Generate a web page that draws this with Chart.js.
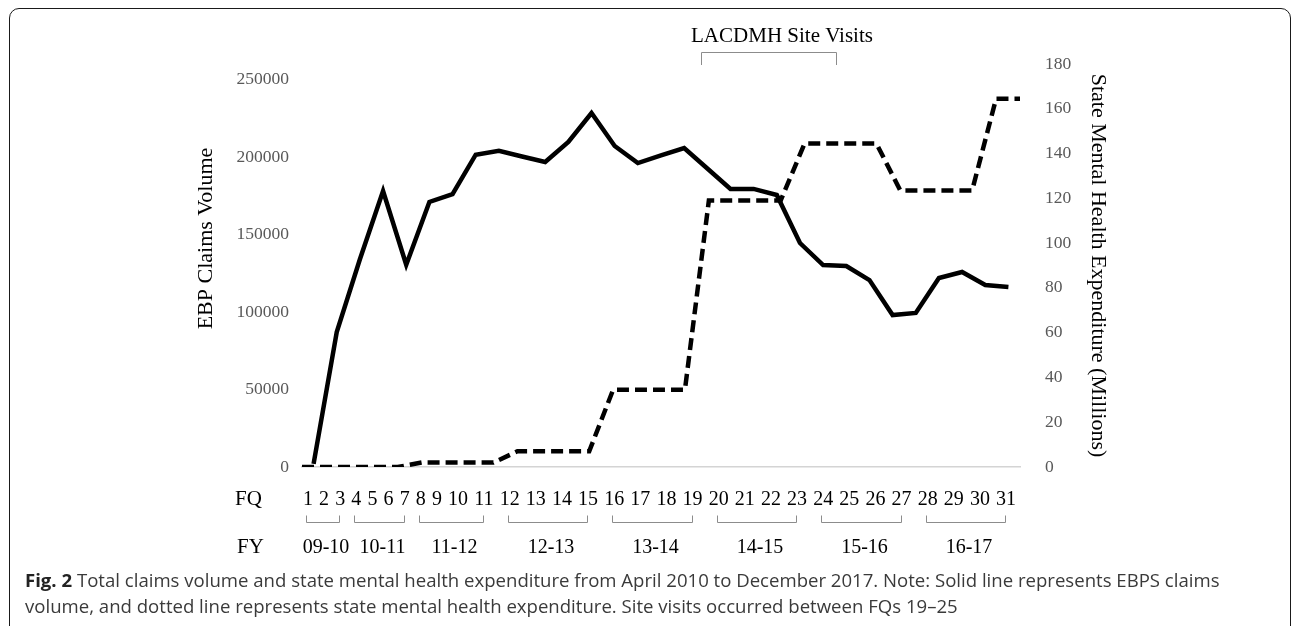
<!DOCTYPE html>
<html><head><meta charset="utf-8">
<script src="https://cdn.jsdelivr.net/npm/chart.js@4.4.1/dist/chart.umd.min.js"></script>
<style>
html,body{margin:0;padding:0;background:#fff;width:1292px;height:626px;overflow:hidden;}
#frame{position:absolute;left:9px;top:8px;width:1282px;height:700px;border:1.5px solid #1a1a1a;border-radius:10px;box-sizing:border-box;}
#wrap{position:absolute;left:0;top:0;width:1292px;height:626px;}
#caption{position:absolute;left:25px;top:567px;font-family:"Open Sans",sans-serif;font-size:18px;line-height:26px;color:#3a3a3a;white-space:nowrap;}
#caption b{color:#222;font-weight:700}
</style></head><body>
<div id="frame"></div>
<div id="wrap"><canvas id="c" width="1292" height="626"></canvas></div>
<div id="caption"><span id="l1"><b>Fig. 2</b> Total claims volume and state mental health expenditure from April 2010 to December 2017. Note: Solid line represents EBPS claims</span><br><span>volume, and dotted line represents state mental health expenditure. Site visits occurred between FQs 19–25</span></div>
<script>
// ---- data ----
const fqLabels = ['1','2','3','4','5','6','7','8','9','10','11','12','13','14','15','16','17','18','19','20','21','22','23','24','25','26','27','28','29','30','31'];
const fyLabels = ['09-10','10-11','11-12','12-13','13-14','14-15','15-16','16-17'];
const fyFirstFQ = [1,4,8,12,16,20,24,28];
const fyLastFQ  = [3,7,11,15,19,23,27,31];
const claimsVolume = [2000,87000,134000,178000,130500,171000,176000,201500,204000,200300,196800,209700,228400,207100,196100,201000,205800,192600,179400,179400,175500,144500,130300,129700,120600,98000,99400,121900,125800,117400,116100];
const expenditure = [0,0,0,0,0,2,2,2,2,7,7,7,7,34.5,34.5,34.5,34.5,119,119,119,119,144.5,144.5,144.5,144.5,123.5,123.5,123.5,123.5,164.5,164.5];
const leftTickValues = [0,50000,100000,150000,200000,250000];
const rightTickValues = [0,20,40,60,80,100,120,140,160,180];
const siteVisitText = 'LACDMH Site Visits';
const siteVisitFQ = [19, 25];
const leftTitle = 'EBP Claims Volume';
const rightTitle = 'State Mental Health Expenditure (Millions)';
const fqHeader = 'FQ', fyHeader = 'FY';

// caption fit
(function(){const l1=document.getElementById('l1');const w=l1.getBoundingClientRect().width;document.getElementById('caption').style.fontSize=(18*1195/w)+'px';})();

const serif = '"Liberation Serif","Times New Roman",serif';

const annot = {
  id:'annot',
  afterDraw(chart){
    const {ctx, chartArea:ca} = chart;
    ctx.save();
    ctx.fillStyle = '#000';
    ctx.textBaseline = 'alphabetic';
    ctx.textAlign = 'left';
    ctx.font = '21px ' + serif;
    ctx.fillText(fqHeader, 235, ca.bottom + 38);
    ctx.fillText(fyHeader, 237, ca.bottom + 86);
    // FQ row
    ctx.font = '20px ' + serif;
    const startX = ca.left + 1, endX = ca.right - 4;
    const widths = fqLabels.map(t => ctx.measureText(t).width);
    const total = widths.reduce((a,b)=>a+b,0);
    const gap = (endX - startX - total)/(fqLabels.length-1);
    const centers = []; let x = startX;
    fqLabels.forEach((t,k)=>{ctx.fillText(t, x, ca.bottom + 38); centers.push(x + widths[k]/2); x += widths[k] + gap;});
    // FY brackets
    ctx.strokeStyle = '#8c8c8c'; ctx.lineWidth = 1;
    const yb = Math.round(ca.bottom + 55) + 0.5;
    fyLabels.forEach((lab,g)=>{
      const a = Math.round(centers[fyFirstFQ[g]-1]-2)+0.5, b = Math.round(centers[fyLastFQ[g]-1]-1)+0.5;
      ctx.beginPath(); ctx.moveTo(a, yb-7); ctx.lineTo(a, yb); ctx.lineTo(b, yb); ctx.lineTo(b, yb-7); ctx.stroke();
      ctx.textAlign = 'center';
      ctx.fillText(lab, (a+b)/2 + 3, ca.bottom + 86);
    });
    // site visits bracket
    const s0 = (centers[siteVisitFQ[0]-1] + centers[siteVisitFQ[0]])/2 - 5;
    const s1 = (centers[siteVisitFQ[1]-2] + centers[siteVisitFQ[1]-1])/2;
    const xa = Math.round(s0)+0.5, xb = Math.round(s1)+0.5, yt = Math.round(ca.top - 12)+0.5;
    ctx.beginPath(); ctx.moveTo(xa, ca.top+1); ctx.lineTo(xa, yt); ctx.lineTo(xb, yt); ctx.lineTo(xb, ca.top+1); ctx.stroke();
    ctx.font = '21px ' + serif;
    ctx.textAlign = 'center';
    ctx.fillText(siteVisitText, (xa+xb)/2 + 13, ca.top - 22);
    // left axis title
    ctx.font = '22px ' + serif;
    ctx.translate(206, ca.top + 174.5);
    ctx.rotate(-Math.PI/2);
    ctx.textBaseline = 'middle';
    ctx.fillText(leftTitle, 0, 0);
    ctx.restore();
  }
};

const tickFont = {family: serif, size: 17.5};
new Chart(document.getElementById('c'), {
  type: 'line',
  data: {
    labels: fqLabels,
    datasets: [
      {label: leftTitle, data: claimsVolume, xAxisID: 'x', yAxisID: 'y', borderColor: '#000', borderWidth: 4.5, pointRadius: 0, tension: 0, borderJoinStyle: 'miter', fill: false},
      {label: rightTitle, data: expenditure, xAxisID: 'x2', yAxisID: 'y2', borderColor: '#000', borderWidth: 4.5, borderDash: [12, 6], pointRadius: 0, tension: 0, fill: false}
    ]
  },
  options: {
    responsive: false, animation: false,
    layout: {padding: {left: 0, right: 181, top: 64, bottom: 159}},
    plugins: {legend: {display: false}, tooltip: {enabled: false}},
    scales: {
      x: {type: 'category', position: 'bottom', offset: true, grid: {display: false, drawTicks: false}, border: {display: true, color: '#d4d4d4', width: 1.5}, ticks: {display: false}, afterFit(s){s.height = 0;}},
      x2: {type: 'category', position: 'bottom', offset: false, grid: {display: false, drawTicks: false}, border: {display: false}, ticks: {display: false}, afterFit(s){s.height = 0;}},
      y: {position: 'left', min: 0, max: 260000, grid: {display: false, drawTicks: false}, border: {display: false},
          afterBuildTicks(s){s.ticks = leftTickValues.map(v => ({value: v}));},
          ticks: {padding: 13, color: '#595959', font: tickFont, callback: v => String(v)},
          title: {display: false, text: leftTitle}, afterFit(s){s.width = 302;}},
      y2: {position: 'right', min: 0, max: 180, grid: {display: false, drawTicks: false}, border: {display: false},
          afterBuildTicks(s){s.ticks = rightTickValues.map(v => ({value: v}));},
          ticks: {padding: 25, color: '#595959', font: tickFont, callback: v => String(v)},
          title: {display: true, text: rightTitle, color: '#000', font: {family: serif, size: 22}, padding: 0}, afterFit(s){s.width = 91;}}
    }
  },
  plugins: [annot]
});
</script>
</body></html>
